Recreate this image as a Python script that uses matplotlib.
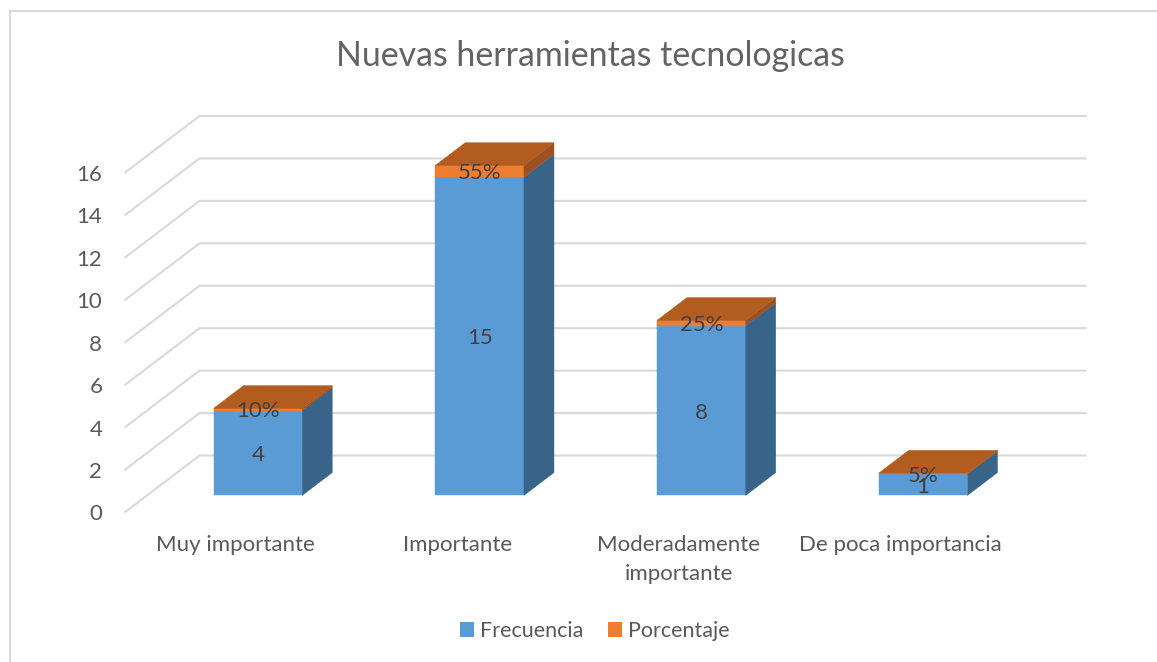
import matplotlib
matplotlib.use('Agg')
import matplotlib.pyplot as plt
from matplotlib.lines import Line2D
from matplotlib.patches import Patch, Polygon

categories = ['Muy importante', 'Importante', 'Moderadamente\nimportante', 'De poca importancia']
frecuencia = [4, 15, 8, 1]
porcentaje = [0.10, 0.55, 0.25, 0.05]
porcentaje_labels = ['10%', '55%', '25%', '5%']
y_ticks = [0, 2, 4, 6, 8, 10, 12, 14, 16]

# colours of the chart
BLUE = '#5B9BD5'
BLUE_SIDE = '#396489'
ORANGE = '#ED7D31'
ORANGE_TOP = '#B35C20'
ORANGE_SIDE = '#9C5122'
GRID = '#D9D9D9'
TEXT = '#595959'
LABEL = '#404040'

plt.rcParams['font.family'] = ['Lato', 'DejaVu Sans']

W, H = 1157, 662
fig = plt.figure(figsize=(W / 100, H / 100), dpi=100)
fig.patch.set_facecolor('white')

# front plane of the 3D box, the depth is added to the data coordinates
ax = fig.add_axes([124.5 / W, 1 - 512.5 / H, 887 / W, 339.5 / H])
ax.set_xlim(0, 4)
ax.set_ylim(0, 16)
ax.patch.set_visible(False)
for s in ax.spines.values():
    s.set_visible(False)

depth_x = 75 / (887 / 4)
depth_y = 57 / (339.5 / 16)


def shift(x, y, d):
    return x + depth_x * d, y + depth_y * d


# gridlines: floor/side wall diagonal, then back wall
for v in y_ticks:
    xs = [0, shift(0, v, 1)[0], shift(4, v, 1)[0]]
    ys = [v, shift(0, v, 1)[1], shift(4, v, 1)[1]]
    ax.plot(xs, ys, color=GRID, lw=1.5, clip_on=False, zorder=1, solid_capstyle='butt')


def box(x0, x1, y0, y1, front, side):
    d0, d1 = 0.3, 0.7
    a = [shift(x0, y0, d0), shift(x1, y0, d0), shift(x1, y1, d0), shift(x0, y1, d0)]
    b = [shift(x1, y0, d0), shift(x1, y0, d1), shift(x1, y1, d1), shift(x1, y1, d0)]
    for pts, c in ((a, front), (b, side)):
        ax.add_patch(Polygon(pts, closed=True, facecolor=c, edgecolor=c, lw=0.3, clip_on=False, zorder=2))


bar_w = 0.4
for i in range(len(categories)):
    x0 = i + 0.5 - bar_w / 2
    x1 = x0 + bar_w
    f = frecuencia[i]
    p = porcentaje[i]
    box(x0, x1, 0, f, BLUE, BLUE_SIDE)
    box(x0, x1, f, f + p, ORANGE, ORANGE_SIDE)
    top = [shift(x0, f + p, 0.3), shift(x1, f + p, 0.3), shift(x1, f + p, 0.7), shift(x0, f + p, 0.7)]
    ax.add_patch(Polygon(top, closed=True, facecolor=ORANGE_TOP, edgecolor=ORANGE_TOP, lw=0.3, clip_on=False, zorder=2))

    # data labels sit in the middle of each front face
    cx, cy = shift(i + 0.5, f / 2, 0.3)
    ax.text(cx, cy, str(f), ha='center', va='center_baseline', fontsize=16, color=LABEL, zorder=3)
    cx, cy = shift(i + 0.5, f + p / 2, 0.3)
    ax.text(cx, cy, porcentaje_labels[i], ha='center', va='center_baseline', fontsize=16, color=LABEL, zorder=3)

ax.set_yticks(y_ticks)
ax.set_yticklabels([str(v) for v in y_ticks], fontsize=16, color=TEXT)
ax.set_xticks([i + 0.5 for i in range(len(categories))])
ax.set_xticklabels(categories, fontsize=16, color=TEXT, linespacing=1.6)
ax.tick_params(axis='y', length=0, pad=16)
ax.tick_params(axis='x', length=0, pad=16)

fig.text(590.5 / W, 1 - 56 / H, 'Nuevas herramientas tecnologicas', ha='center', va='center',
         fontsize=24.4, color='#636363')

handles = [Patch(facecolor=BLUE, label='Frecuencia'), Patch(facecolor=ORANGE, label='Porcentaje')]
fig.legend(handles=handles, loc='center', bbox_to_anchor=(594.5 / W, 1 - 631 / H), ncol=2, frameon=False,
           fontsize=15.5, labelcolor=TEXT, handlelength=0.65, handleheight=0.65, handletextpad=0.28,
           columnspacing=1.15, borderpad=0)

# chart area border, only top and left are inside the crop
fig.add_artist(Line2D([9.5 / W, 9.5 / W], [0, 1 - 11 / H], color=GRID, lw=1.5))
fig.add_artist(Line2D([9.5 / W, 1], [1 - 11 / H, 1 - 11 / H], color=GRID, lw=1.5))

fig.savefig('out.png', dpi=100)
